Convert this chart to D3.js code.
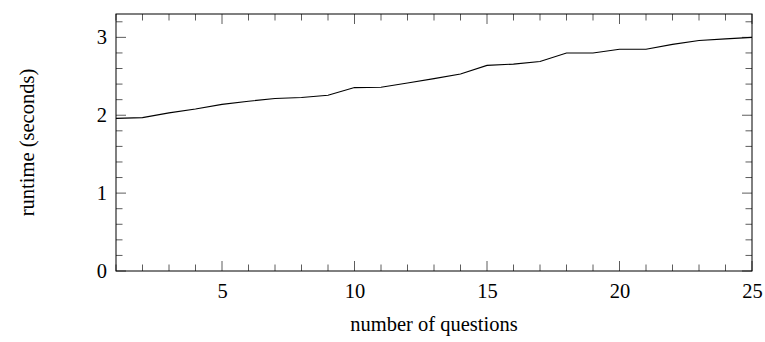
<!DOCTYPE html>
<html>
<head>
<meta charset="utf-8">
<script src="https://cdn.jsdelivr.net/npm/d3@7"></script>
<style>
  body { margin: 0; background: #fff; }
  svg text { font-family: "Liberation Serif", "DejaVu Serif", serif; fill: #000; }
</style>
</head>
<body>
<div id="chart"></div>
<script>
// number of questions
var questions = [1, 2, 3, 4, 5, 6, 7, 8, 9, 10, 11, 12, 13, 14, 15, 16, 17, 18, 19, 20, 21, 22, 23, 24, 25];
// runtime in seconds
var runtime = [1.96, 1.97, 2.03, 2.08, 2.14, 2.18, 2.215, 2.227, 2.257, 2.355, 2.359, 2.414, 2.47, 2.53, 2.64, 2.656, 2.69, 2.80, 2.80, 2.848, 2.848, 2.91, 2.96, 2.98, 3.0];
var xTicks = [5, 10, 15, 20, 25];
var yTicks = [0, 1, 2, 3];

var svgWidth = 765, svgHeight = 342;
var margin = { top: 14, right: 13, bottom: 71, left: 116 };
var width = svgWidth - margin.left - margin.right;
var height = svgHeight - margin.top - margin.bottom;

var svg = d3.select("#chart").append("svg")
  .attr("width", svgWidth)
  .attr("height", svgHeight);

var g = svg.append("g")
  .attr("transform", "translate(" + margin.left + "," + margin.top + ")");

var x = d3.scaleLinear().domain([1, 25]).range([0, width]);
var y = d3.scaleLinear().domain([0, 3.3]).range([height, 0]);

var majorLen = 10, minorLen = 6.5;
var xMinor = d3.range(1, 26).filter(function (d) { return xTicks.indexOf(d) < 0; });
var yMinor = d3.range(0, 3.3, 0.2).map(function (d) { return +d.toFixed(1); })
  .filter(function (d) { return yTicks.indexOf(d) < 0; });

// ticks, pointing inward on all four sides
function tickLines(vals, len, horizontal) {
  vals.forEach(function (v) {
    if (horizontal) {
      g.append("line").attr("x1", x(v)).attr("x2", x(v)).attr("y1", height).attr("y2", height - len);
      g.append("line").attr("x1", x(v)).attr("x2", x(v)).attr("y1", 0).attr("y2", len);
    } else {
      g.append("line").attr("y1", y(v)).attr("y2", y(v)).attr("x1", 0).attr("x2", len);
      g.append("line").attr("y1", y(v)).attr("y2", y(v)).attr("x1", width).attr("x2", width - len);
    }
  });
}
tickLines(xMinor, minorLen, true);
tickLines(xTicks, majorLen, true);
tickLines(yMinor, minorLen, false);
tickLines(yTicks, majorLen, false);
g.selectAll("line").attr("stroke", "#333").attr("stroke-width", 0.8);

// tick labels via axes
var xAxis = g.append("g")
  .attr("transform", "translate(0," + height + ")")
  .call(d3.axisBottom(x).tickValues(xTicks).tickSize(0).tickPadding(12).tickFormat(d3.format("d")));
var yAxis = g.append("g")
  .call(d3.axisLeft(y).tickValues(yTicks).tickSize(0).tickPadding(9).tickFormat(d3.format("d")));
[xAxis, yAxis].forEach(function (a) {
  a.select(".domain").remove();
  a.selectAll("text").attr("font-size", "20.5px")
    .attr("font-family", "'Liberation Serif', serif");
});

// frame
g.append("rect")
  .attr("x", 0).attr("y", 0)
  .attr("width", width).attr("height", height)
  .attr("fill", "none").attr("stroke", "#000").attr("stroke-width", 1);

// line
var line = d3.line()
  .x(function (d, i) { return x(questions[i]); })
  .y(function (d) { return y(d); });

g.append("path")
  .datum(runtime)
  .attr("fill", "none")
  .attr("stroke", "#000")
  .attr("stroke-width", 1.1)
  .attr("d", line);

// axis titles
svg.append("text")
  .attr("x", margin.left + width / 2)
  .attr("y", 331)
  .attr("text-anchor", "middle")
  .attr("font-size", "20.5px")
  .text("number of questions");

svg.append("text")
  .attr("transform", "translate(34," + (margin.top + height / 2) + ") rotate(-90)")
  .attr("text-anchor", "middle")
  .attr("font-size", "20.5px")
  .text("runtime (seconds)");
</script>
</body>
</html>
